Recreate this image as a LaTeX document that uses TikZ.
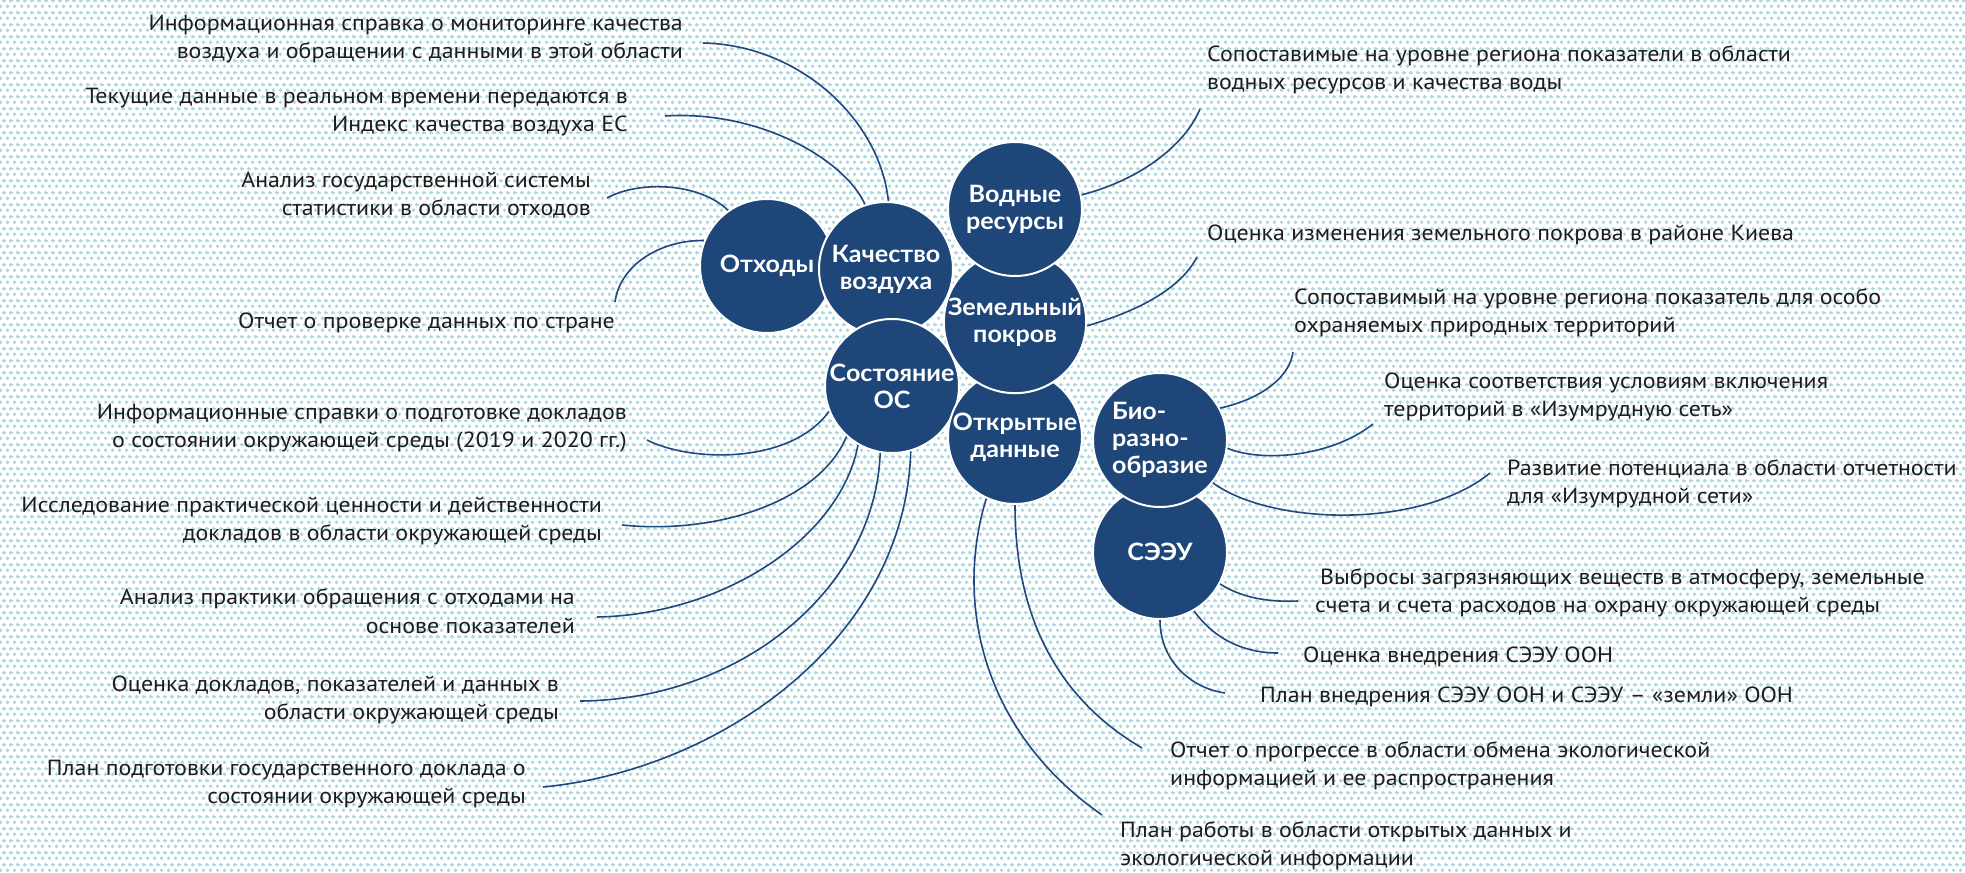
\documentclass[tikz,border=0pt]{standalone}
\usepackage{fontspec}
\setmainfont{PT Sans}[FakeStretch=1.09]
\newfontfamily\circfont{Lato}[FakeStretch=1.05]
\usetikzlibrary{patterns.meta}
\definecolor{circblue}{RGB}{30,70,121}
\definecolor{linkblue}{RGB}{32,72,128}
\definecolor{dotcyan}{RGB}{170,215,222}
\definecolor{textcol}{RGB}{30,28,30}
\tikzdeclarepattern{
  name=bgdots, type=colored,
  bottom left={(0bp,0bp)}, top right={(7bp,12bp)},
  tile size={(7bp,12bp)},
  code={
    \fill[dotcyan] (1.75bp,3bp) circle [radius=2.1bp];
    \fill[dotcyan] (5.25bp,9bp) circle [radius=2.1bp];
  }}
\tikzset{
  topic/.style={circle, fill=circblue, draw=white, line width=2bp,
    minimum size=134bp, inner sep=0pt, text=white, align=center,
    font=\circfont\bfseries\fontsize{24}{27}\selectfont},
  leftnote/.style={anchor=east, align=right, inner sep=0pt, text=textcol,
    font=\fontsize{22}{28.5}\selectfont},
  rightnote/.style={anchor=west, align=left, inner sep=0pt, text=textcol,
    font=\fontsize{22}{28.5}\selectfont},
  link/.style={draw=linkblue, line width=1.6bp}
}
\begin{document}
\begin{tikzpicture}[x=1bp,y=-1bp]
\useasboundingbox (0,0) rectangle (1965,873);
\fill[white] (0,0) rectangle (1965,873);
\fill[pattern=bgdots] (0,0) rectangle (1965,873);
%%
% Node: topics
\node[topic] (otx) at (767,266) {Отходы};
\node[topic] (kach) at (886,269) {Качество\\воздуха};
\node[topic] (sost) at (892,386) {Состояние\\ОС};
\node[topic] (open) at (1015,437) {Открытые\\данные};
\node[topic] (zem) at (1015,322) {Земельный\\покров};
\node[topic] (vod) at (1015,209) {Водные\\ресурсы};
\node[topic] (seea) at (1160,552) {СЭЭУ};
\node[topic, align=left] (bio) at (1160,440) {Био-\\разно-\\образие};
%
% Node: left notes
\node[leftnote] (info) at (683,39) {Информационная справка о мониторинге качества\\воздуха и обращении с данными в этой области};
\node[leftnote] (rt) at (628,112) {Текущие данные в реальном времени передаются в\\Индекс качества воздуха ЕС};
\node[leftnote] (anl) at (591,195) {Анализ государственной системы\\статистики в области отходов};
\node[leftnote] (chk) at (615,323) {Отчет о проверке данных по стране};
\node[leftnote] (inf2) at (627,428) {Информационные справки о подготовке докладов\\о состоянии окружающей среды (2019 и 2020 гг.)};
\node[leftnote] (res) at (602,521) {Исследование практической ценности и действенности\\докладов в области окружающей среды};
\node[leftnote] (prac) at (575,611) {Анализ практики обращения с отходами на\\основе показателей};
\node[leftnote] (eval) at (559,700) {Оценка докладов, показателей и данных в\\области окружающей среды};
\node[leftnote] (plan) at (526,784) {План подготовки государственного доклада о\\состоянии окружающей среды};
%
% Node: right notes
\node[rightnote] (wat) at (1207,70) {Сопоставимые на уровне региона показатели в области\\водных ресурсов и качества воды};
\node[rightnote] (land) at (1207,235) {Оценка изменения земельного покрова в районе Киева};
\node[rightnote] (pa) at (1294,313) {Сопоставимый на уровне региона показатель для особо\\охраняемых природных территорий};
\node[rightnote] (emer) at (1384,397) {Оценка соответствия условиям включения\\территорий в «Изумрудную сеть»};
\node[rightnote] (cap) at (1507,484) {Развитие потенциала в области отчетности\\для «Изумрудной сети»};
\node[rightnote] (emis) at (1315,593) {\hspace*{5bp}Выбросы загрязняющих веществ в атмосферу, земельные\\счета и счета расходов на охрану окружающей среды};
\node[rightnote] (seeaev) at (1303,657) {Оценка внедрения СЭЭУ ООН};
\node[rightnote] (seeapl) at (1260,697) {План внедрения СЭЭУ ООН и СЭЭУ – «земли» ООН};
\node[rightnote] (prog) at (1170,766) {Отчет о прогрессе в области обмена экологической\\информацией и ее распространения};
\node[rightnote] (opl) at (1120,846) {План работы в области открытых данных и\\экологической информации};
%
% Edge: notes -> Качество воздуха
\draw[link] ([xshift=20bp,yshift=-4bp]info.east) .. controls (800,45) and (880,120) .. (kach.88);
\draw[link] ([xshift=37bp,yshift=-4bp]rt.east) .. controls (760,110) and (845,160) .. (kach.108);
% Edge: notes -> Отходы
\draw[link] ([xshift=16bp,yshift=-3bp]anl.east) .. controls (640,180) and (700,183) .. (otx.125);
\draw[link] ([yshift=21bp]chk.east) .. controls (620,265) and (660,240) .. (otx.158);
% Edge: notes -> Состояние ОС
\draw[link] ([xshift=20bp,yshift=-12bp]inf2.east) .. controls (690,462) and (790,465) .. (sost.202);
\draw[link] ([xshift=20bp,yshift=-4bp]res.east) .. controls (720,535) and (820,500) .. (sost.228);
\draw[link] ([xshift=22bp,yshift=-6bp]prac.east) .. controls (720,615) and (840,540) .. (sost.240);
\draw[link] ([xshift=21bp,yshift=-1bp]eval.east) .. controls (740,700) and (875,590) .. (sost.260);
\draw[link] ([xshift=17bp,yshift=-3bp]plan.east) .. controls (720,770) and (905,640) .. (sost.286);
% Edge: notes -> Водные ресурсы, Земельный покров
\draw[link] ([xshift=-7bp,yshift=-39bp]wat.west) .. controls (1185,145) and (1140,180) .. (vod.12);
\draw[link] ([xshift=-10bp,yshift=-22bp]land.west) .. controls (1180,290) and (1135,312) .. (zem.357);
% Edge: notes -> Биоразнообразие
\draw[link] ([xshift=-1bp,yshift=-39bp]pa.west) .. controls (1290,375) and (1265,398) .. (bio.28);
\draw[link] ([xshift=-11bp,yshift=-27bp]emer.west) .. controls (1330,458) and (1260,462) .. (bio.353);
\draw[link] ([xshift=-17bp,yshift=11bp]cap.west) .. controls (1420,530) and (1270,525) .. (bio.321);
% Edge: notes -> СЭЭУ
\draw[link] ([xshift=-17bp,yshift=-8bp]emis.west) .. controls (1275,602) and (1245,600) .. (seea.332);
\draw[link] ([xshift=-25bp,yshift=4bp]seeaev.west) .. controls (1245,653) and (1215,640) .. (seea.300);
\draw[link] ([xshift=-35bp,yshift=4bp]seeapl.west) .. controls (1190,688) and (1160,660) .. (seea.270);
% Edge: notes -> Открытые данные
\draw[link] ([xshift=-28bp,yshift=18bp]prog.west) .. controls (1060,700) and (1015,620) .. (open.270);
\draw[link] ([xshift=-18bp,yshift=31bp]opl.west) .. controls (980,730) and (955,600) .. (open.245);
%
\end{tikzpicture}
\end{document}
